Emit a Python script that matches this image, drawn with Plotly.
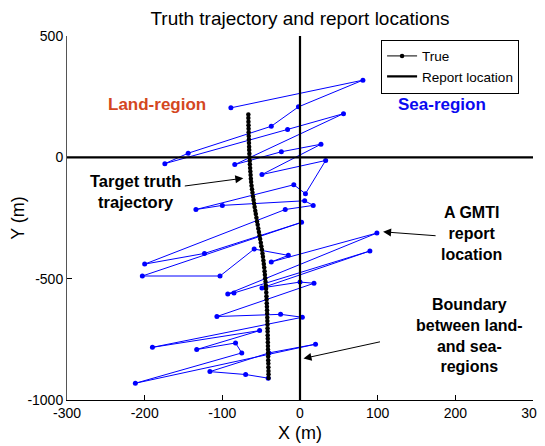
import plotly.graph_objects as go

# ---------------- data ----------------
truth_x = [-66.5, -66.5, -66.4, -66.3, -66.2, -66.1, -66.0, -65.8, -65.7, -65.5,
           -65.4, -65.2, -65.0, -64.7, -64.5, -64.2, -63.9, -63.6, -63.3, -62.9,
           -62.4, -61.8, -61.2, -60.5, -59.8, -59.1, -58.4, -57.6, -56.9, -56.1,
           -55.3, -54.5, -53.7, -52.9, -52.1, -51.3, -50.5, -49.8, -49.0, -48.3,
           -47.7, -47.1, -46.6, -46.1, -45.6, -45.2, -44.8, -44.4, -44.0, -43.7,
           -43.4, -43.2, -43.0, -42.8, -42.6, -42.4, -42.3, -42.1, -42.0, -41.9,
           -41.8, -41.7, -41.6, -41.5, -41.4, -41.3, -41.2, -41.1, -41.0, -40.9,
           -40.8, -40.7, -40.6, -40.5, -40.5]
truth_y = [177, 162, 147, 132, 118, 103, 88, 74, 59, 44,
           30, 15, 0, -14, -29, -44, -58, -73, -88, -102,
           -117, -132, -146, -161, -176, -190, -205, -220, -234, -249,
           -264, -278, -293, -308, -322, -337, -352, -366, -381, -396,
           -410, -425, -440, -454, -469, -484, -498, -513, -528, -542,
           -557, -572, -586, -601, -616, -630, -645, -660, -674, -689,
           -704, -718, -733, -748, -762, -777, -792, -806, -821, -836,
           -850, -865, -880, -894, -909]

report_x = [-89, 81, -2, -37, -144, -174, -16, 56, -84, -24,
            27, -49, 33, 7, -8, -134, -100, 6, 17, -19,
            -200, -123, 2, -203, -103, -59, -15, -37, 99, -93,
            -85, 90, -49, 0, 18, -107, -25, 3, -190, -52,
            -133, -83, -75, -212, 20, -40, -116, -70, -41]
report_y = [204, 318, 208, 128, 17, -26, 115, 180, -30, 23,
            54, -71, -13, -150, -113, -215, -198, -179, -198, -215,
            -440, -396, -268, -489, -489, -378, -404, -431, -312, -563,
            -559, -386, -538, -514, -519, -656, -647, -659, -783, -714,
            -792, -765, -806, -931, -770, -806, -883, -895, -910]

boundary_x = [0, 0, None, -300, 300]
boundary_y = [500, -1000, None, 0, 0]

x_tickvals = [-300, -200, -100, 0, 100, 200, 300]
x_ticktext = ["-300", "-200", "-100", "0", "100", "200", "300"]
y_tickvals = [500, 0, -500, -1000]
y_ticktext = ["500", "0", "-500", "-1000"]

FONT = "Liberation Sans, Arial, sans-serif"

fig = go.Figure()

fig.add_trace(go.Scatter(
    x=report_x, y=report_y, mode="lines+markers",
    line=dict(color="#0000FF", width=1),
    marker=dict(color="#0000FF", size=5),
    showlegend=False, name="Reports"))

fig.add_trace(go.Scatter(
    x=truth_x, y=truth_y, mode="lines+markers", name="True",
    line=dict(color="black", width=1),
    marker=dict(color="black", size=4.5)))

fig.add_trace(go.Scatter(
    x=boundary_x, y=boundary_y, mode="lines", name="Report location",
    line=dict(color="black", width=2.2)))

# the page body has an 8px margin, so the figure is drawn 8px smaller
fig.update_layout(
    width=537, height=438, autosize=False,
    margin=dict(l=59, r=12, t=28, b=46, autoexpand=False),
    paper_bgcolor="white", plot_bgcolor="white",
    font=dict(family=FONT, color="black", size=14),
    title=dict(text="Truth trajectory and report locations",
               x=0.5438, xanchor="center", y=0.992, yanchor="top",
               yref="container", font=dict(size=19, family=FONT)),
    legend=dict(x=0.674, y=0.99, xanchor="left", yanchor="top",
                bordercolor="black", borderwidth=1, bgcolor="white",
                font=dict(size=13.5, family=FONT), tracegroupgap=0,
                itemwidth=30),
    xaxis=dict(range=[-300, 300], tickvals=x_tickvals, ticktext=x_ticktext,
               ticks="inside", ticklen=5, tickcolor="black", automargin=False,
               showline=True, linecolor="black", linewidth=1,
               showgrid=False, zeroline=False, mirror=False,
               title=dict(text="X (m)", font=dict(size=18, family=FONT), standoff=6),
               tickfont=dict(size=14, family=FONT)),
    yaxis=dict(range=[-1000, 500], tickvals=y_tickvals, ticktext=y_ticktext,
               ticks="inside", ticklen=5, tickcolor="black", automargin=False,
               showline=True, linecolor="#555555", linewidth=1,
               showgrid=False, zeroline=False, mirror=False,
               title=dict(text="Y (m)", font=dict(size=18, family=FONT), standoff=1),
               tickfont=dict(size=14, family=FONT)),
)

bold = dict(family=FONT, size=16, color="black")

annotations = [
    dict(x=-184, y=216, xref="x", yref="y", text="<b>Land-region</b>", showarrow=False,
         font=dict(family=FONT, size=17, color="#D4471F")),
    dict(x=183, y=216, xref="x", yref="y", text="<b>Sea-region</b>", showarrow=False,
         font=dict(family=FONT, size=17, color="#0A0AF0")),
    dict(x=-212, y=-142, xref="x", yref="y", text="<b>Target truth<br>trajectory</b>",
         showarrow=False, font=dict(family=FONT, size=16.5, color="black")),
    dict(x=-73, y=-86, xref="x", yref="y", text="", showarrow=True,
         ax=-60, ay=8, arrowhead=2, arrowsize=1.6, arrowwidth=1, arrowcolor="black"),
    dict(x=221, y=-314, xref="x", yref="y", text="<b>A GMTI<br>report<br>location</b>",
         showarrow=False, font=bold),
    dict(x=107, y=-307, xref="x", yref="y", text="", showarrow=True,
         ax=54, ay=4, arrowhead=2, arrowsize=1.6, arrowwidth=1, arrowcolor="black"),
    dict(x=218, y=-735, xref="x", yref="y",
         text="<b>Boundary<br>between land-<br>and sea-<br>regions</b>",
         showarrow=False, font=bold),
    dict(x=4.5, y=-829, xref="x", yref="y", text="", showarrow=True,
         ax=78, ay=-17, arrowhead=2, arrowsize=1.6, arrowwidth=1, arrowcolor="black"),
]
fig.update_layout(annotations=annotations)

fig.write_html("out.html")
